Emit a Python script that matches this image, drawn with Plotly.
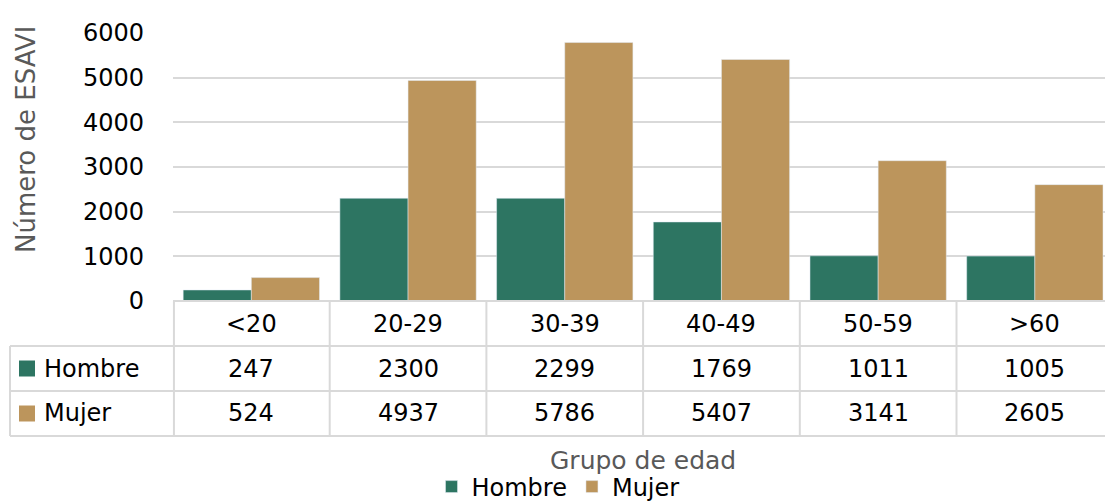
import plotly.graph_objects as go

categories = ["<20", "20-29", "30-39", "40-49", "50-59", ">60"]
hombre = [247, 2300, 2299, 1769, 1011, 1005]
mujer = [524, 4937, 5786, 5407, 3141, 2605]
series_names = ["Hombre", "Mujer"]
y_ticks = [0, 1000, 2000, 3000, 4000, 5000, 6000]

C_H = "#2D7562"
C_M = "#BC955C"
GRID = "#D9D9D9"
FONT = "DejaVu Sans"
W, H = 1105, 502

def py(p):
    return (H - p) / H

def px(p):
    return p / W

fig = go.Figure()
fig.add_trace(go.Bar(x=categories, y=hombre, name=series_names[0], marker_color=C_H))
fig.add_trace(go.Bar(x=categories, y=mujer, name=series_names[1], marker_color=C_M))

n = len(categories)
cat_w = 156.7
plot_left = 173
x_hi = (n - 0.5) - ((plot_left + n * cat_w) - W) / cat_w

shapes = []
line = dict(color=GRID, width=2)
# horizontal table lines
shapes.append(dict(type="line", xref="x domain", yref="paper", x0=0, x1=1, y0=py(301), y1=py(301), line=line))
for yy in [346, 391, 436]:
    shapes.append(dict(type="line", xref="paper", yref="paper", x0=px(10), x1=1, y0=py(yy), y1=py(yy), line=line))
# vertical lines
shapes.append(dict(type="line", xref="paper", yref="paper", x0=px(10), x1=px(10), y0=py(346), y1=py(436), line=line))
shapes.append(dict(type="line", xref="x domain", yref="paper", x0=0.001, x1=0.001, y0=py(301), y1=py(436), line=line))
for i in range(n - 1):
    shapes.append(dict(type="line", xref="x", yref="paper", x0=i + 0.5, x1=i + 0.5, y0=py(301), y1=py(436), line=line))
# legend keys in table
for yc, col in [(368.5, C_H), (413.5, C_M)]:
    shapes.append(dict(type="rect", xref="paper", yref="paper", x0=px(19), x1=px(35), y0=py(yc + 8), y1=py(yc - 8),
                       fillcolor=col, line=dict(width=0)))

ann = []
tf = dict(family=FONT, size=24, color="#000000")
for i, c in enumerate(categories):
    ann.append(dict(x=i, y=py(323.5), xref="x", yref="paper", text=c, showarrow=False, font=tf, yanchor="middle"))
    ann.append(dict(x=i, y=py(368.5), xref="x", yref="paper", text=str(hombre[i]), showarrow=False, font=tf, yanchor="middle"))
    ann.append(dict(x=i, y=py(413.5), xref="x", yref="paper", text=str(mujer[i]), showarrow=False, font=tf, yanchor="middle"))
for yc, name in [(368.5, series_names[0]), (413.5, series_names[1])]:
    ann.append(dict(x=px(42), y=py(yc), xref="paper", yref="paper", text=name, showarrow=False, font=tf,
                    xanchor="left", yanchor="middle"))
# axis titles
ann.append(dict(x=px(643), y=py(460), xref="paper", yref="paper", text="Grupo de edad", showarrow=False,
                font=dict(family=FONT, size=25, color="#595959"), xanchor="center", yanchor="middle"))
ann.append(dict(x=px(26), y=py(140), xref="paper", yref="paper", text="Número de ESAVI", showarrow=False,
                textangle=-90, font=dict(family=FONT, size=26, color="#595959"), xanchor="center", yanchor="middle"))

fig.update_layout(
    width=W, height=H,
    margin=dict(l=0, r=0, t=0, b=0, autoexpand=False),
    paper_bgcolor="white", plot_bgcolor="white",
    barmode="group", bargap=0.13, bargroupgap=0,
    font=dict(family=FONT, size=24, color="#000000"),
    showlegend=True,
    legend=dict(orientation="h", x=px(558), xanchor="center", y=py(487), yanchor="middle",
                font=dict(family=FONT, size=24, color="#000000"), itemwidth=30, traceorder="normal"),
    xaxis=dict(domain=[px(plot_left), 1], range=[-0.5, x_hi], showticklabels=False, showgrid=False,
               showline=False, zeroline=False, ticks="", automargin=False),
    yaxis=dict(domain=[py(301), py(33)], range=[0, 6000], tickvals=y_ticks, showgrid=True, gridcolor=GRID,
               gridwidth=1.5, zeroline=False, showline=False, ticks="", ticklabelstandoff=28, automargin=False,
               tickfont=dict(family=FONT, size=24, color="#000000")),
    shapes=shapes, annotations=ann,
)

fig.write_html("out.html", config={"displayModeBar": False},
               post_script="document.body.style.margin='0';document.body.style.overflow='hidden';")
